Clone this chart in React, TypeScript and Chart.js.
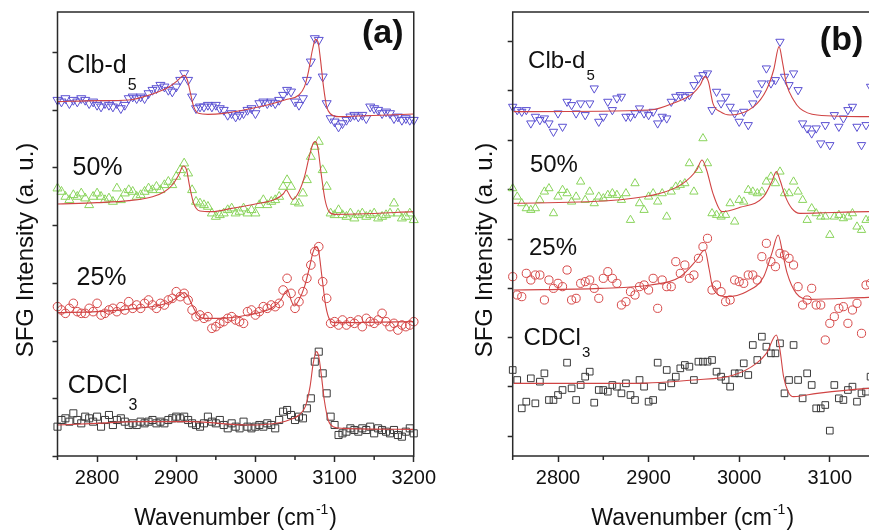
import React, { useEffect, useRef } from "react";
import { Chart, registerables } from "chart.js";
Chart.register(...registerables);

const FONT = '"Liberation Sans", Arial, Helvetica, sans-serif';
const AXIS = "#2a2a2a";
const FIT = "#d04444";
const C_CLB = "#5a50d2";
const C_50 = "#8ad45c";
const C_25 = "#d64848";
const C_CD = "#3a3a3a";

// ---------- x categories (wavenumber, cm-1) ----------
const WN_A = [
  2750, 2755, 2760, 2765, 2770, 2775, 2780, 2785, 2790, 2795,
  2800, 2805, 2810, 2815, 2820, 2825, 2830, 2835, 2840, 2845,
  2850, 2855, 2860, 2865, 2870, 2875, 2880, 2885, 2890, 2895,
  2900, 2905, 2910, 2915, 2920, 2925, 2930, 2935, 2940, 2945,
  2950, 2955, 2960, 2965, 2970, 2975, 2980, 2985, 2990, 2995,
  3000, 3005, 3010, 3015, 3020, 3025, 3030, 3035, 3040, 3045,
  3050, 3055, 3060, 3065, 3070, 3075, 3080, 3085, 3090, 3095,
  3100, 3105, 3110, 3115, 3120, 3125, 3130, 3135, 3140, 3145,
  3150, 3155, 3160, 3165, 3170, 3175, 3180, 3185, 3190, 3195, 3200,
];
const WN_B = [
  2750, 2755, 2760, 2765, 2770, 2775, 2780, 2785, 2790, 2795,
  2800, 2805, 2810, 2815, 2820, 2825, 2830, 2835, 2840, 2845,
  2850, 2855, 2860, 2865, 2870, 2875, 2880, 2885, 2890, 2895,
  2900, 2905, 2910, 2915, 2920, 2925, 2930, 2935, 2940, 2945,
  2950, 2955, 2960, 2965, 2970, 2975, 2980, 2985, 2990, 2995,
  3000, 3005, 3010, 3015, 3020, 3025, 3030, 3035, 3040, 3045,
  3050, 3055, 3060, 3065, 3070, 3075, 3080, 3085, 3090, 3095,
  3100, 3105, 3110, 3115, 3120, 3125, 3130, 3135, 3140, 3145,
];

// ---------- panel (a) measured SFG intensity (a.u., stacked) ----------
const CLB_A = [
  1068, 1063, 1073, 1058, 1068, 1063, 1073, 1068, 1058, 1063,
  1053, 1048, 1058, 1053, 1048, 1058, 1043, 1053, 1073, 1078,
  1073, 1078, 1073, 1088, 1098, 1103, 1113, 1108, 1098, 1093,
  1108, 1128, 1148, 1128, 1078, 1043, 1048, 1048, 1053, 1048,
  1053, 1043, 1038, 1023, 1028, 1018, 1023, 1028, 1038, 1043,
  1028, 1058, 1063, 1058, 1063, 1058, 1068, 1083, 1098, 1093,
  1063, 1053, 1073, 1128, 1183, 1253, 1248, 1138, 1058, 1013,
  1003, 988, 998, 1008, 1018, 1023, 1018, 1023, 1013, 1048,
  1043, 1038, 1028, 1033, 1028, 1013, 1018, 1008, 1013, 1008, 1008,
];
const P50_A = [
  803, 793, 778, 768, 783, 778, 788, 773, 753, 778,
  788, 778, 768, 773, 763, 803, 768, 788, 798, 793,
  778, 783, 793, 803, 798, 808, 798, 813, 823, 813,
  838, 858, 878, 848, 798, 763, 758, 753, 748, 728,
  718, 723, 728, 738, 743, 728, 733, 743, 728, 738,
  728, 753, 768, 753, 763, 768, 778, 808, 828, 808,
  763, 758, 788, 828, 898, 928, 943, 858, 808, 728,
  723, 738, 723, 718, 728, 713, 723, 728, 718, 723,
  728, 713, 718, 723, 728, 758, 728, 713, 718, 728, 708,
];
const P25_A = [
  448, 438, 428, 443, 458, 433, 428, 428, 443, 433,
  458, 423, 428, 438, 443, 433, 448, 438, 463, 443,
  453, 443, 458, 468, 453, 443, 458, 453, 468, 473,
  493, 478, 488, 468, 438, 418, 423, 413, 418, 383,
  388, 398, 403, 413, 418, 408, 403, 398, 433, 438,
  423, 433, 448, 443, 453, 448, 458, 498, 533, 488,
  443, 463, 493, 533, 573, 613, 628, 523, 473, 398,
  403, 393, 408, 393, 403, 398, 408, 388, 413, 403,
  398, 408, 428, 403, 388, 398, 378, 393, 388, 393, 403,
];
const CDCL_A = [
  88, 108, 113, 103, 128, 108, 98, 118, 113, 103,
  118, 88, 108, 123, 93, 108, 113, 103, 93, 98,
  93, 103, 98, 103, 108, 98, 103, 98, 108, 113,
  118, 113, 118, 108, 98, 93, 88, 98, 118, 103,
  98, 108, 93, 83, 98, 88, 83, 103, 88, 83,
  88, 93, 88, 98, 93, 83, 108, 133, 138, 123,
  108, 118, 113, 143, 173, 283, 313, 248, 188, 118,
  93, 63, 68, 73, 83, 78, 73, 83, 78, 88,
  68, 83, 78, 73, 68, 78, 63, 58, 73, 83, 68,
];

// ---------- panel (a) fitted curves ----------
const FIT_CLB_A_X = [2750, 2800, 2840, 2870, 2890, 2900, 2906, 2910, 2914, 2918, 2922, 2928, 2940, 2960, 2990, 3020, 3040, 3055, 3062, 3067, 3072, 3076, 3079, 3082, 3086, 3090, 3095, 3105, 3130, 3200];
const FIT_CLB_A_Y = [1063, 1066, 1068, 1086, 1106, 1123, 1136, 1142, 1128, 1088, 1048, 1028, 1025, 1028, 1040, 1056, 1070, 1083, 1108, 1153, 1218, 1250, 1243, 1193, 1108, 1048, 1026, 1018, 1020, 1026];
const FIT_50_A_X = [2750, 2800, 2840, 2870, 2885, 2895, 2903, 2909, 2913, 2917, 2922, 2930, 2945, 2970, 3000, 3025, 3035, 3039, 3043, 3047, 3055, 3062, 3068, 3073, 3076, 3079, 3083, 3088, 3093, 3100, 3130, 3200];
const FIT_50_A_Y = [756, 760, 766, 778, 793, 813, 843, 870, 858, 808, 758, 735, 733, 743, 756, 770, 786, 798, 783, 770, 793, 838, 898, 938, 943, 923, 848, 768, 733, 725, 726, 733];
const FIT_25_A_X = [2750, 2800, 2850, 2880, 2895, 2905, 2910, 2915, 2920, 2927, 2935, 2955, 2990, 3020, 3032, 3038, 3041, 3045, 3049, 3055, 3062, 3068, 3073, 3077, 3080, 3084, 3089, 3094, 3100, 3140, 3200];
const FIT_25_A_Y = [430, 433, 443, 453, 466, 483, 490, 478, 453, 423, 413, 413, 423, 443, 468, 493, 496, 468, 450, 468, 508, 563, 613, 628, 613, 538, 448, 408, 400, 401, 403];
const FIT_CD_A_X = [2750, 2800, 2850, 2920, 2990, 3030, 3045, 3055, 3063, 3069, 3073, 3077, 3080, 3083, 3087, 3092, 3098, 3110, 3200];
const FIT_CD_A_Y = [93, 98, 103, 103, 93, 100, 110, 123, 148, 208, 278, 313, 298, 248, 168, 108, 88, 83, 80];

// ---------- panel (b) measured SFG intensity ----------
const CLB_B = [
  1048, 1038, 1033, 1038, 998, 1018, 1008, 1013, 998, 973,
  1028, 988, 1063, 1053, 1028, 1058, 1023, 1058, 1103, 1003,
  1018, 1063, 1038, 1073, 1078, 1018, 1018, 1028, 1043, 1028,
  1023, 1033, 998, 1018, 1013, 1063, 1078, 1083, 1078, 1083,
  1113, 1133, 1143, 1148, 1038, 1093, 1058, 1078, 1048, 1028,
  1003, 1033, 993, 1058, 1088, 1118, 1163, 1118, 1128, 1243,
  1138, 1113, 1148, 1098, 998, 983, 968, 983, 938, 993,
  933, 1023, 988, 1013, 1038, 1048, 988, 933, 993, 1108,
];
const P50_B = [
  803, 778, 758, 743, 738, 743, 768, 793, 803, 728,
  778, 798, 788, 763, 778, 823, 768, 793, 758, 778,
  773, 783, 788, 783, 768, 788, 708, 818, 758, 738,
  778, 788, 763, 788, 718, 793, 808, 813, 818, 878,
  793, 858, 953, 878, 728, 723, 718, 723, 758, 703,
  768, 763, 798, 793, 788, 793, 823, 838, 818, 853,
  788, 788, 823, 793, 768, 708, 743, 728, 718, 718,
  663, 718, 723, 713, 718, 728, 688, 678, 708, 713,
];
const P25_B = [
  538, 483, 478, 548, 528, 543, 543, 468, 528, 503,
  518, 508, 558, 468, 473, 518, 523, 528, 503, 473,
  533, 553, 533, 518, 453, 463, 493, 483, 508, 513,
  498, 533, 443, 528, 508, 508, 583, 548, 573, 533,
  543, 593, 628, 653, 498, 513, 493, 463, 468, 528,
  523, 518, 543, 543, 528, 598, 638, 583, 568, 608,
  603, 593, 573, 508, 453, 468, 503, 453, 453, 348,
  398, 418, 443, 448, 398, 438, 458, 368, 513, 518,
];
const CDCL_B = [
  258, 228, 143, 163, 233, 158, 223, 248, 168, 168,
  183, 198, 280, 203, 168, 213, 238, 253, 160, 198,
  198, 193, 213, 208, 188, 218, 183, 168, 228, 208,
  163, 168, 280, 208, 258, 218, 238, 263, 273, 268,
  228, 283, 283, 283, 288, 253, 238, 228, 208, 248,
  248, 278, 243, 333, 288, 358, 328, 308, 308, 338,
  188, 228, 333, 228, 173, 248, 213, 143, 143, 153,
  76, 213, 173, 168, 198, 208, 163, 188, 193, 238,
];

// ---------- panel (b) fitted curves ----------
const FIT_CLB_B_X = [2751, 2902, 2927, 2949, 2957, 2962, 2966, 2971, 2979, 2990, 3016, 3030, 3038, 3044, 3048, 3052, 3060, 3067, 3086, 3143, 3200];
const FIT_CLB_B_Y = [1033, 1038, 1058, 1088, 1113, 1138, 1123, 1058, 1033, 1023, 1048, 1098, 1158, 1228, 1178, 1118, 1068, 1043, 1023, 1018, 1018];
const FIT_50_B_X = [2751, 2865, 2913, 2938, 2953, 2959, 2964, 2971, 2981, 3001, 3027, 3036, 3041, 3045, 3051, 3058, 3067, 3143, 3200];
const FIT_50_B_Y = [758, 768, 788, 818, 858, 888, 858, 788, 733, 746, 778, 823, 853, 828, 778, 743, 728, 733, 733];
const FIT_25_B_X = [2751, 2846, 2902, 2935, 2953, 2962, 2967, 2971, 2986, 3008, 3027, 3036, 3043, 3048, 3053, 3063, 3078, 3143, 3200];
const FIT_25_B_Y = [498, 503, 513, 538, 588, 618, 558, 503, 478, 493, 538, 608, 663, 608, 548, 488, 470, 476, 478];
const FIT_CD_B_X = [2751, 2883, 2949, 2994, 3019, 3030, 3041, 3045, 3049, 3054, 3060, 3086, 3143, 3200];
const FIT_CD_B_Y = [218, 218, 228, 243, 278, 308, 363, 318, 238, 193, 178, 188, 203, 208];

// ---------- ticks ----------
const X_TICKS = [2800, 2900, 3000, 3100, 3200];
const X_MINOR = [2750, 2850, 2950, 3050, 3150];
const Y_TICKS_A = [0, 173, 345, 518, 691, 864, 1036, 1209];
const Y_TICKS_B = [60, 208, 356, 503, 651, 799, 947, 1095, 1242];

type Lbl = { text: string; sub?: string; x: number; y: number; size: number; subSize?: number; subDy?: number; bold?: boolean; align?: CanvasTextAlign };

type Panel = {
  left: number;
  width: number;
  yAxisWidth: number;
  padRight: number;
  yTicks: number[];
  yTitleX: number;
  xTitleOffset: number | null;
  markers: { xs: number[]; ys: number[]; color: string; style: string; rot: number; r: number }[];
  fits: { xs: number[]; ys: number[] }[];
  labels: Lbl[];
};

const PANELS: Panel[] = [
  {
    left: 0,
    width: 440,
    yAxisWidth: 57.5,
    padRight: 21.5,
    yTicks: Y_TICKS_A,
    yTitleX: 33,
    xTitleOffset: null,
    markers: [
      { xs: WN_A, ys: CLB_A, color: C_CLB, style: "triangle", rot: 180, r: 5.2 },
      { xs: WN_A, ys: P50_A, color: C_50, style: "triangle", rot: 0, r: 5.2 },
      { xs: WN_A, ys: P25_A, color: C_25, style: "circle", rot: 0, r: 4.3 },
      { xs: WN_A, ys: CDCL_A, color: C_CD, style: "rect", rot: 0, r: 5 },
    ],
    fits: [
      { xs: FIT_CLB_A_X, ys: FIT_CLB_A_Y },
      { xs: FIT_50_A_X, ys: FIT_50_A_Y },
      { xs: FIT_25_A_X, ys: FIT_25_A_Y },
      { xs: FIT_CD_A_X, ys: FIT_CD_A_Y },
    ],
    labels: [
      { text: "Clb-d", sub: "5", x: 2762, y: 1149, size: 25, subSize: 16, subDy: 17 },
      { text: "50%", x: 2769, y: 843, size: 25 },
      { text: "25%", x: 2774, y: 513, size: 25 },
      { text: "CDCl", sub: "3", x: 2763, y: 189, size: 25, subSize: 16, subDy: 17 },
      { text: "(a)", x: 3187, y: 1239, size: 34, bold: true, align: "right" },
    ],
  },
  {
    left: 455,
    width: 500,
    yAxisWidth: 57.7,
    padRight: 34.6,
    yTicks: Y_TICKS_B,
    yTitleX: 492,
    xTitleOffset: 180,
    markers: [
      { xs: WN_B, ys: CLB_B, color: C_CLB, style: "triangle", rot: 180, r: 4.8 },
      { xs: WN_B, ys: P50_B, color: C_50, style: "triangle", rot: 0, r: 4.8 },
      { xs: WN_B, ys: P25_B, color: C_25, style: "circle", rot: 0, r: 4.1 },
      { xs: WN_B, ys: CDCL_B, color: C_CD, style: "rect", rot: 0, r: 4.7 },
    ],
    fits: [
      { xs: FIT_CLB_B_X, ys: FIT_CLB_B_Y },
      { xs: FIT_50_B_X, ys: FIT_50_B_Y },
      { xs: FIT_25_B_X, ys: FIT_25_B_Y },
      { xs: FIT_CD_B_X, ys: FIT_CD_B_Y },
    ],
    labels: [
      { text: "Clb-d", sub: "5", x: 2767, y: 1164, size: 24, subSize: 15, subDy: 12 },
      { text: "50%", x: 2769, y: 852, size: 24 },
      { text: "25%", x: 2768, y: 603, size: 24 },
      { text: "CDCl", sub: "3", x: 2762, y: 333, size: 24, subSize: 15, subDy: 12 },
      { text: "(b)", x: 3089, y: 1218, size: 34, bold: true, align: "left" },
    ],
  },
];

function makeDecor(p: Panel) {
  return {
    id: "decor",
    afterDraw(chart: any) {
      const { ctx, chartArea: ca, scales } = chart;
      const xs = scales.x;
      const ys = scales.y;
      ctx.save();
      ctx.strokeStyle = AXIS;
      ctx.lineWidth = 1.5;
      ctx.strokeRect(ca.left, ca.top, ca.right - ca.left, ca.bottom - ca.top);
      ctx.beginPath();
      for (const v of X_MINOR) {
        const px = xs.getPixelForValue(v);
        ctx.moveTo(px, ca.bottom);
        ctx.lineTo(px, ca.bottom + 4);
      }
      ctx.stroke();
      ctx.fillStyle = "#111";
      for (const l of p.labels) {
        ctx.font = `${l.bold ? "bold " : ""}${l.size}px ${FONT}`;
        ctx.textBaseline = "alphabetic";
        ctx.textAlign = l.align || "left";
        const px = xs.getPixelForValue(l.x);
        const py = ys.getPixelForValue(l.y);
        ctx.fillText(l.text, px, py);
        if (l.sub) {
          const w = ctx.measureText(l.text).width;
          ctx.font = `${l.subSize}px ${FONT}`;
          ctx.textAlign = "left";
          ctx.fillText(l.sub, px + w + 1, py + (l.subDy || 0));
        }
      }
      // y title
      ctx.save();
      ctx.translate(p.yTitleX - p.left, (ca.top + ca.bottom) / 2 + 16);
      ctx.rotate(-Math.PI / 2);
      ctx.font = `24px ${FONT}`;
      ctx.textAlign = "center";
      ctx.textBaseline = "alphabetic";
      ctx.fillText("SFG Intensity (a. u.)", 0, 0);
      ctx.restore();
      // x title
      const cx = p.xTitleOffset === null ? (ca.left + ca.right) / 2 : ca.left + p.xTitleOffset;
      const by = 525;
      const mainF = `23px ${FONT}`;
      const supF = `14px ${FONT}`;
      ctx.font = mainF;
      const w1 = ctx.measureText("Wavenumber (cm").width;
      const w3 = ctx.measureText(")").width;
      ctx.font = supF;
      const w2 = ctx.measureText("-1").width;
      let sx = cx - (w1 + w2 + w3 + 2) / 2;
      ctx.textAlign = "left";
      ctx.font = mainF;
      ctx.fillText("Wavenumber (cm", sx, by);
      sx += w1 + 1;
      ctx.font = supF;
      ctx.fillText("-1", sx, by - 11);
      sx += w2 + 1;
      ctx.font = mainF;
      ctx.fillText(")", sx, by);
      ctx.restore();
    },
  };
}

function PanelChart({ p }: { p: Panel }) {
  const ref = useRef<HTMLCanvasElement | null>(null);
  useEffect(() => {
    if (!ref.current) return;
    const datasets: any[] = [];
    p.fits.forEach((f) => {
      datasets.push({
        data: f.xs.map((x, i) => ({ x, y: f.ys[i] })),
        showLine: true,
        borderColor: FIT,
        borderWidth: 1.1,
        pointRadius: 0,
        pointHoverRadius: 0,
        cubicInterpolationMode: "monotone",
        fill: false,
        clip: false,
      });
    });
    p.markers.forEach((m) => {
      datasets.push({
        data: m.xs.map((x, i) => ({ x, y: m.ys[i] })),
        showLine: false,
        pointStyle: m.style,
        pointRotation: m.rot,
        pointRadius: m.r,
        pointHoverRadius: m.r,
        pointBorderWidth: 1,
        borderColor: m.color,
        pointBorderColor: m.color,
        backgroundColor: "rgba(0,0,0,0)",
        pointBackgroundColor: "rgba(0,0,0,0)",
        clip: false,
      });
    });
    const chart = new Chart(ref.current, {
      type: "scatter",
      data: { datasets },
      plugins: [makeDecor(p)],
      options: {
        animation: false,
        responsive: false,
        maintainAspectRatio: false,
        events: [],
        layout: { padding: { left: 0, right: p.padRight, top: 12, bottom: 0 } },
        plugins: { legend: { display: false }, tooltip: { enabled: false } },
        scales: {
          x: {
            type: "linear",
            min: 2750,
            max: 3200,
            afterBuildTicks: (s: any) => {
              s.ticks = X_TICKS.map((v) => ({ value: v }));
            },
            afterFit: (s: any) => {
              s.height = 75;
            },
            ticks: {
              color: "#111",
              font: { family: FONT, size: 20 },
              padding: 4,
              maxRotation: 0,
              autoSkip: false,
              callback: (v: any) => String(v),
            },
            grid: {
              drawOnChartArea: false,
              drawTicks: true,
              tickLength: 6,
              tickWidth: 1.5,
              tickColor: AXIS,
            },
            border: { display: false },
          },
          y: {
            type: "linear",
            min: 0,
            max: 1332,
            afterBuildTicks: (s: any) => {
              s.ticks = p.yTicks.map((v) => ({ value: v }));
            },
            afterFit: (s: any) => {
              s.width = p.yAxisWidth;
            },
            ticks: { display: false },
            grid: {
              drawOnChartArea: false,
              drawTicks: true,
              tickLength: 5,
              tickWidth: 1.5,
              tickColor: AXIS,
            },
            border: { display: false },
          },
        },
      } as any,
    });
    return () => chart.destroy();
  }, [p]);
  return (
    <canvas
      ref={ref}
      width={p.width}
      height={531}
      style={{ position: "absolute", left: p.left, top: 0, width: p.width, height: 531 }}
    />
  );
}

export default function App() {
  useEffect(() => {
    document.body.style.margin = "0";
  }, []);
  return (
    <div style={{ position: "relative", width: 869, height: 531, overflow: "hidden", background: "#fff" }}>
      {PANELS.map((p, i) => (
        <PanelChart key={i} p={p} />
      ))}
    </div>
  );
}
